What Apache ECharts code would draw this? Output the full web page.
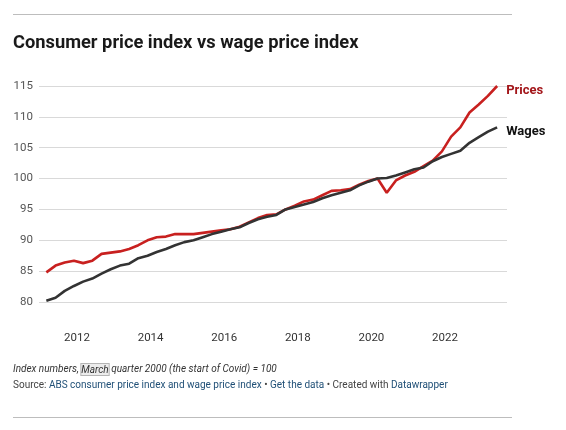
<!DOCTYPE html>
<html><head><meta charset="utf-8">
<script src="https://cdn.jsdelivr.net/npm/echarts@6/dist/echarts.min.js"></script>
<style>html,body{margin:0;padding:0;background:#fff}#c{width:566px;height:430px}</style>
</head><body><div id="c"></div>
<script>
const quarters = [
  "2011-03","2011-06","2011-09","2011-12","2012-03","2012-06","2012-09","2012-12",
  "2013-03","2013-06","2013-09","2013-12","2014-03","2014-06","2014-09","2014-12",
  "2015-03","2015-06","2015-09","2015-12","2016-03","2016-06","2016-09","2016-12",
  "2017-03","2017-06","2017-09","2017-12","2018-03","2018-06","2018-09","2018-12",
  "2019-03","2019-06","2019-09","2019-12","2020-03","2020-06","2020-09","2020-12",
  "2021-03","2021-06","2021-09","2021-12","2022-03","2022-06","2022-09","2022-12",
  "2023-03","2023-06"
];
const prices = [
  84.8, 85.9, 86.4, 86.7, 86.3, 86.7, 87.8, 88.0,
  88.2, 88.6, 89.2, 90.0, 90.5, 90.6, 91.0, 91.0,
  91.0, 91.2, 91.4, 91.6, 91.8, 92.2, 92.9, 93.6,
  94.1, 94.2, 95.0, 95.6, 96.3, 96.6, 97.3, 98.0,
  98.1, 98.3, 99.0, 99.6, 100.0, 97.7, 99.7, 100.5,
  101.1, 102.0, 102.9, 104.4, 106.8, 108.3, 110.7, 112.0,
  113.4, 115.0
];
const wages = [
  80.2, 80.7, 81.8, 82.6, 83.3, 83.8, 84.6, 85.3,
  85.9, 86.2, 87.1, 87.5, 88.1, 88.6, 89.2, 89.7,
  90.0, 90.5, 91.0, 91.4, 91.8, 92.1, 92.8, 93.4,
  93.8, 94.1, 95.0, 95.4, 95.8, 96.2, 96.8, 97.3,
  97.7, 98.1, 98.9, 99.5, 100.0, 100.1, 100.5, 101.0,
  101.5, 101.8, 102.8, 103.5, 104.0, 104.5, 105.8, 106.7,
  107.6, 108.3
];
const yearTicks = [2012, 2014, 2016, 2018, 2020, 2022];
const seriesNames = ["Prices", "Wages"];

function toYear(q) {
  const [y, m] = q.split("-").map(Number);
  return y + (m - 1) / 12;
}
const pricePts = quarters.map((q, i) => [toYear(q), prices[i]]);
const wagePts = quarters.map((q, i) => [toYear(q), wages[i]]);

const chart = echarts.init(document.getElementById("c"), null, { renderer: "canvas" });
const FONT = "Roboto";
chart.setOption({
  animation: false,
  backgroundColor: "#fff",
  textStyle: { fontFamily: FONT },
  grid: { left: 39, right: 59, top: 86, bottom: 128, containLabel: false },
  xAxis: {
    type: "value",
    min: 2010.967, max: 2023.685,
    axisLine: { show: false }, axisTick: { show: false },
    splitLine: { show: false },
    axisLabel: {
      customValues: yearTicks,
      color: "#333", fontSize: 11.5, fontFamily: FONT, margin: 30,
      formatter: v => String(Math.round(v))
    }
  },
  yAxis: {
    type: "value", min: 80, max: 115, interval: 5,
    axisLine: { show: false }, axisTick: { show: false },
    splitLine: { lineStyle: { color: "#d9d9d9", width: 1 } },
    axisLabel: { color: "#555", fontSize: 11.5, fontFamily: FONT, margin: 6 }
  },
  series: [
    {
      name: seriesNames[0], type: "line", data: pricePts, showSymbol: false,
      lineStyle: { color: "#c8201f", width: 2.6 }, itemStyle: { color: "#c8201f" },
      endLabel: { show: true, formatter: seriesNames[0], color: "#a3161a", fontWeight: "bold",
        fontSize: 13, fontFamily: FONT, distance: 9, offset: [0, 5] }
    },
    {
      name: seriesNames[1], type: "line", data: wagePts, showSymbol: false,
      lineStyle: { color: "#333333", width: 2.6 }, itemStyle: { color: "#333333" },
      endLabel: { show: true, formatter: seriesNames[1], color: "#111", fontWeight: "bold",
        fontSize: 13, fontFamily: FONT, distance: 9, offset: [0, 4] }
    }
  ],
  graphic: [
    { type: "line", shape: { x1: 13, y1: 14.5, x2: 512, y2: 14.5 }, style: { stroke: "#bdbdbd", lineWidth: 1 } },
    { type: "line", shape: { x1: 13, y1: 417.5, x2: 512, y2: 417.5 }, style: { stroke: "#bdbdbd", lineWidth: 1 } },
    { type: "text", left: 13, top: 34,
      style: { text: "Consumer price index vs wage price index", font: "bold 18.3px Roboto", fill: "#1a1a1a" } },
    { type: "text", left: 13, top: 363,
      style: {
        text: "Index numbers, {m|March} quarter 2000 (the start of Covid) = 100",
        font: "italic 10px Roboto", fill: "#333",
        rich: { m: { font: "italic 10px Roboto", fill: "#333", backgroundColor: "#ececec",
          borderColor: "#b5b5b5", borderWidth: 1, borderType: "dotted", padding: [1, 0, 0, 0] } }
      } },
    { type: "text", left: 13, top: 380,
      style: {
        text: "Source: {l|ABS consumer price index and wage price index} • {l|Get the data} • Created with {l|Datawrapper}",
        font: "10px Roboto", fill: "#444",
        rich: { l: { font: "10px Roboto", fill: "#1f4f76" } }
      } }
  ]
});
</script>
</body></html>
